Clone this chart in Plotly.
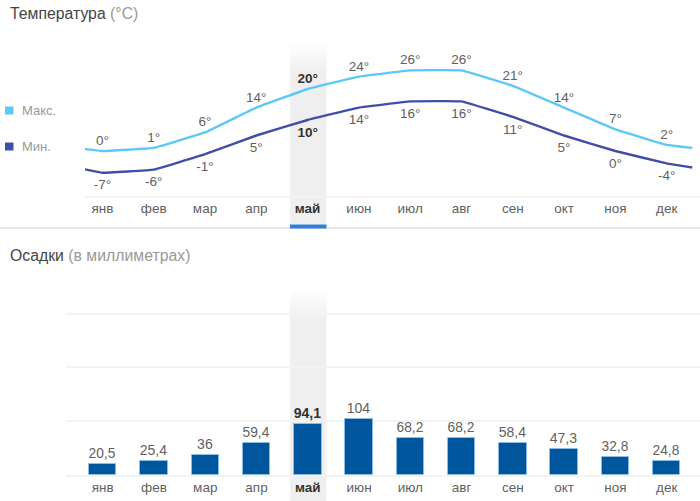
import plotly.graph_objects as go

months = ["янв", "фев", "мар", "апр", "май", "июн", "июл", "авг", "сен", "окт", "ноя", "дек"]
t_max = [0, 1, 6, 14, 20, 24, 26, 26, 21, 14, 7, 2]
t_min = [-7, -6, -1, 5, 10, 14, 16, 16, 11, 5, 0, -4]
# Line position estimated at the left and right ends of each curve
edge_x = [-0.34, 11.5]
t_max_edges = [0.6, 1.0]
t_min_edges = [-5.9, -5.3]
precip = [20.5, 25.4, 36, 59.4, 94.1, 104, 68.2, 68.2, 58.4, 47.3, 32.8, 24.8]
precip_grid = [0, 100, 200, 300]
highlight = 4

W, H = 700, 501
FONT = "Liberation Sans, Arial, sans-serif"
TXT = "#5f5f5f"
C_MAX, C_MIN, C_BAR = "#5BC8F5", "#3F4FA8", "#00569D"
idx = list(range(12))


def hl(s, i):
    return f"<b style='color:#333'>{s}</b>" if i == highlight else s


def px_y(y):
    return 1 - y / H


def temp_trace(vals, edges, color, pos, name, gap):
    x = [edge_x[0]] + idx + [edge_x[1]]
    y = [edges[0]] + vals + [edges[1]]
    labels = [""] + [hl(f"{v}°", i) for i, v in enumerate(vals)] + [""]
    return go.Scatter(x=x, y=y, mode="lines+markers+text", name=name, text=labels, textposition=pos,
                      line=dict(color=color, width=2.4, shape="spline", smoothing=0.18),
                      marker=dict(size=gap, opacity=0, color=color),
                      textfont=dict(size=13.5, color=TXT, family=FONT), cliponaxis=False,
                      showlegend=False, hoverinfo="skip", xaxis="x", yaxis="y")


fig = go.Figure()
fig.add_trace(temp_trace(t_max, t_max_edges, C_MAX, "top center", "Макс.", 2.5))
fig.add_trace(temp_trace(t_min, t_min_edges, C_MIN, "bottom center", "Мин.", 9))
fig.add_trace(go.Bar(x=idx, y=precip, width=0.535, xaxis="x2", yaxis="y2",
                     marker=dict(color=C_BAR, line=dict(color="#8CBDE6", width=1)),
                     text=[hl(f"{v}".replace(".", ","), i) for i, v in enumerate(precip)],
                     textposition="outside", cliponaxis=False,
                     textfont=dict(size=14, color=TXT, family=FONT),
                     showlegend=False, hoverinfo="skip"))

shapes = []
BAND_L, BAND_R = 290, 326.5


def band(y0, y1, color="#EFEFEF", opacity=1.0, layer="below"):
    shapes.append(dict(type="rect", xref="paper", yref="paper", x0=BAND_L / W, x1=BAND_R / W,
                       y0=px_y(y1), y1=px_y(y0), fillcolor=color, opacity=opacity,
                       line=dict(width=0), layer=layer))


shapes.append(dict(type="line", xref="paper", yref="paper", x0=0, x1=1, y0=px_y(228), y1=px_y(228),
                   line=dict(color="#E8E8E8", width=2), layer="below"))
for top, bottom in [(44, 224), (290, 501)]:
    steps = 10
    for s in range(steps):
        band(top + s * 3, top + (s + 1) * 3, opacity=(s + 1) / steps)
    band(top + steps * 3, bottom)
band(224.5, 228.5, color="#2F7FD6", layer="above")

legend_items = [("Макс.", C_MAX, 110.5), ("Мин.", C_MIN, 146.5)]
annotations = []
for label, color, y in legend_items:
    shapes.append(dict(type="rect", xref="paper", yref="paper", x0=5 / W, x1=13.5 / W,
                       y0=px_y(y + 4), y1=px_y(y - 4), fillcolor=color, line=dict(width=0)))
    annotations.append(dict(text=label, xref="paper", yref="paper", x=20 / W, y=px_y(y), showarrow=False,
                            xanchor="left", yanchor="middle",
                            font=dict(size=13, color="#999999", family=FONT)))

for title, unit, y in [("Температура", "(°C)", 13), ("Осадки", "(в миллиметрах)", 255)]:
    annotations.append(dict(text=f"{title} <span style='color:#999'>{unit}</span>", xref="paper", yref="paper",
                            x=8 / W, y=px_y(y), showarrow=False, xanchor="left", yanchor="middle",
                            font=dict(size=15.8, color="#444", family=FONT)))

ticktext = [hl(m, i) for i, m in enumerate(months)]
xcommon = dict(tickmode="array", tickvals=idx, ticktext=ticktext, showgrid=False, zeroline=False, ticks="",
               tickfont=dict(size=13.5, color=TXT, family=FONT), showline=True, linecolor="#F3F3F3", linewidth=1.5,
               fixedrange=True)

fig.update_layout(
    width=W, height=H, margin=dict(l=0, r=0, t=0, b=0), autosize=False,
    paper_bgcolor="white", plot_bgcolor="rgba(0,0,0,0)", font=dict(family=FONT),
    shapes=shapes, annotations=annotations, showlegend=False, bargap=0,
    xaxis=dict(domain=[85 / W, 1], range=[-0.34, 11.65], anchor="y", ticklabelstandoff=-1, **xcommon),
    yaxis=dict(domain=[px_y(196), px_y(44)], range=[-14.5, 34.5], visible=False, fixedrange=True),
    xaxis2=dict(domain=[66 / W, 1], range=[-0.716, 11.65], anchor="y2", ticklabelstandoff=-1, **xcommon),
    yaxis2=dict(domain=[px_y(474.7), px_y(290)], range=[0, 344], tickmode="array", tickvals=precip_grid,
                showticklabels=False, showgrid=True, gridcolor="#F3F3F3", gridwidth=1.5, zeroline=False,
                ticks="", fixedrange=True),
)

fig.write_html("out.html", config={"displayModeBar": False},
               post_script="document.body.style.margin='0';document.body.style.overflow='hidden';")
